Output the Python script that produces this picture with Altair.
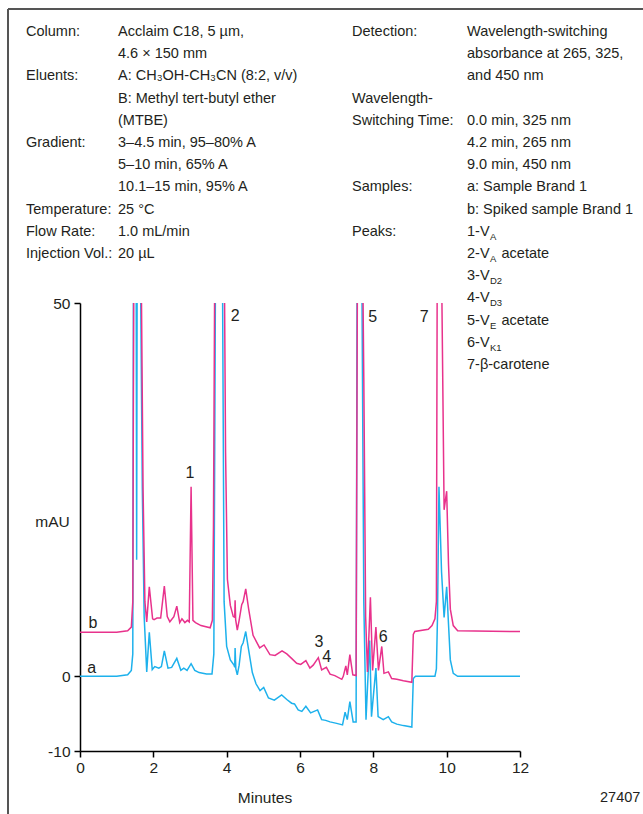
import altair as alt
import pandas as pd

# ---- chromatogram traces: retention time (min) and absorbance (mAU) ----
# a: sample Brand 1
trace_a_min = [0.00, 1.00, 1.30, 1.40, 1.44, 1.46, 1.53, 1.545, 1.56, 1.64, 1.70, 1.75, 1.82,
               1.89, 1.97, 2.04, 2.15, 2.22, 2.30, 2.40, 2.50, 2.64, 2.75, 2.83, 2.92, 3.03,
               3.13, 3.25, 3.45, 3.60, 3.65, 3.70, 3.88, 3.93, 4.00, 4.10, 4.20, 4.22, 4.23,
               4.25, 4.29, 4.34, 4.40, 4.45, 4.52, 4.60, 4.70, 4.80, 4.91, 5.01, 5.14, 5.30,
               5.50, 5.64, 5.77, 5.85, 5.95, 6.05, 6.16, 6.29, 6.48, 6.59, 6.70, 6.82, 7.00,
               7.16, 7.23, 7.29, 7.36, 7.45, 7.53, 7.56, 7.68, 7.74, 7.80, 7.90, 7.95, 8.07,
               8.13, 8.27, 8.41, 8.50, 8.64, 8.82, 9.05, 9.09, 9.15, 9.68, 9.72, 9.75, 9.79,
               9.86, 9.93, 10.00, 10.05, 10.10, 10.18, 10.30, 12.00]
trace_a_mau = [0.0, 0.0, 0.2, 0.8, 3.0, 60, 60, 15.6, 60, 60, 25, 8, 0.6,
               5.9, 0.9, 1.3, 1.1, 1.3, 3.4, 1.1, 1.2, 2.4, 0.8, 1.1, 0.8, 1.7,
               0.8, 0.5, 0.3, 0.3, 3.0, 60, 60, 10, 4.0, 2.2, 1.5, 1.2, 3.8,
               1.0, 0.2, 1.5, 4.0, 4.5, 6.0, 3.5, 0.5, -1.0, -1.9, -1.5, -2.9, -3.2,
               -2.5, -3.1, -3.6, -3.7, -4.5, -4.7, -4.0, -4.9, -4.5, -5.8, -5.9, -6.1, -6.3,
               -6.5, -4.8, -5.8, -3.4, -6.1, -6.1, 60, 60, 10, -5.8, 4.8, -5.4, 1.1,
               -5.4, -5.8, -5.4, -6.1, -6.4, -6.6, -6.8, -0.3, 0.0, 0.0, 1.0, 8, 25.4,
               14, 7.9, 12.0, 7.0, 2.2, 0.4, 0.0, 0.0]

# b: spiked sample Brand 1 (offset trace)
trace_b_min = [0.00, 1.00, 1.30, 1.40, 1.44, 1.47, 1.66, 1.72, 1.77, 1.82, 1.89, 1.98, 2.02,
               2.10, 2.20, 2.30, 2.38, 2.45, 2.56, 2.64, 2.72, 2.78, 2.86, 2.93, 2.98, 3.03,
               3.08, 3.15, 3.30, 3.55, 3.61, 3.64, 3.68, 3.93, 3.97, 4.02, 4.10, 4.18, 4.22,
               4.23, 4.245, 4.29, 4.34, 4.41, 4.45, 4.52, 4.60, 4.72, 4.90, 5.02, 5.18, 5.32,
               5.51, 5.64, 5.77, 5.91, 6.02, 6.16, 6.27, 6.36, 6.50, 6.59, 6.72, 6.82, 6.95,
               7.14, 7.18, 7.25, 7.29, 7.36, 7.44, 7.53, 7.57, 7.70, 7.74, 7.79, 7.84, 7.92,
               7.98, 8.07, 8.14, 8.23, 8.29, 8.41, 8.50, 8.64, 8.82, 9.05, 9.09, 9.13, 9.50,
               9.60, 9.68, 9.72, 9.745, 9.85, 9.93, 10.00, 10.05, 10.10, 10.18, 10.30, 12.00]
trace_b_mau = [5.9, 5.9, 6.1, 6.6, 10, 60, 60, 25, 10, 7.3, 12.0, 7.7, 7.6,
               7.8, 7.8, 12.1, 8.0, 7.3, 8.0, 9.4, 7.2, 7.7, 7.2, 7.5, 7.3, 25.4,
               7.5, 7.2, 6.8, 6.5, 7.5, 20, 60, 60, 30, 13, 9.5, 8.0, 7.9,
               10.2, 7.6, 6.2, 7.5, 9.6, 10.0, 11.7, 9.0, 5.5, 3.8, 4.2, 2.9, 2.8,
               3.4, 3.0, 2.4, 1.75, 1.6, 2.1, 1.1, 1.5, 2.5, 0.85, 1.2, 0.3, 0.1,
               -0.4, 0.0, 1.4, 0.2, 2.9, 0.2, 0.1, 60, 60, 40, 8, 0.6, 10.6,
               0.8, 6.6, 0.8, 4.0, 0.4, 0.6, -0.3, -0.4, -0.6, -0.8, 5.6, 6.0, 6.3,
               6.8, 7.7, 10, 60, 60, 22.3, 24.8, 15, 9.0, 6.8, 6.1, 6.0]

# peak numbers and where they are written
peak_names = ["1", "2", "3", "4", "5", "6", "7"]
peak_label_min = [3.0, 4.23, 6.52, 6.73, 7.98, 8.27, 9.39]
peak_label_mau = [27.2, 48.2, 4.65, 2.64, 48.1, 5.3, 48.1]

trace_names = ["a", "b"]
trace_label_min = [0.32, 0.35]
trace_label_mau = [1.1, 7.1]

x_ticks = [0, 2, 4, 6, 8, 10, 12]
y_ticks = [-10, 0, 50]

# ---- method conditions (one entry per text row) ----
left_labels = ["Column:", "", "Eluents:", "", "", "Gradient:", "", "", "Temperature:",
               "Flow Rate:", "Injection Vol.:"]
left_values = ["Acclaim C18, 5 µm,", "4.6 × 150 mm", "A: CH₃OH-CH₃CN (8:2, v/v)",
               "B: Methyl tert-butyl ether", "(MTBE)", "3–4.5 min, 95–80% A",
               "5–10 min, 65% A", "10.1–15 min, 95% A", "25 °C", "1.0 mL/min", "20 µL"]
right_labels = ["Detection:", "", "", "Wavelength-", "Switching Time:", "", "",
                "Samples:", "", "Peaks:"]
right_values = ["Wavelength-switching", "absorbance at 265, 325,", "and 450 nm", "",
                "0.0 min, 325 nm", "4.2 min, 265 nm", "9.0 min, 450 nm",
                "a: Sample Brand 1", "b: Spiked sample Brand 1"]
peak_prefix = ["1-V", "2-V", "3-V", "4-V", "5-V", "6-V", "7-β-carotene"]
peak_sub = ["A", "A", "D2", "D3", "E", "K1", ""]
peak_suffix = ["", "acetate", "", "", "acetate", "", ""]
figure_code = "27407"

# ---- layout ----
FONT = "Liberation Sans, Arial, sans-serif"
TEXT = "#231f20"
BLUE = "#1db1ec"
PINK = "#e8328c"
W, H = 440, 448
LEFT, TOP = 80, 303
FS = 14.5
ROW0, STEP = 32, 22.2

rows = []


def put(x, row, text, size=FS, dy=0.0):
    if text:
        rows.append({"px": x - LEFT, "py": ROW0 + row * STEP + dy - TOP,
                     "text": text, "fs": size})


for i, t in enumerate(left_labels):
    put(26, i, t)
for i, t in enumerate(left_values):
    put(118, i, t)
for i, t in enumerate(right_labels):
    put(352, i, t)
for i, t in enumerate(right_values):
    put(467, i, t)
for i, (p, s, q) in enumerate(zip(peak_prefix, peak_sub, peak_suffix)):
    put(467, 9 + i, p)
    put(490, 9 + i, s, size=9.5, dy=5)
    put(501.5, 9 + i, q)
rows.append({"px": 600 - LEFT, "py": 798 - TOP, "text": figure_code, "fs": 14.5})
notes = pd.DataFrame(rows)

traces = pd.concat([
    pd.DataFrame({"min": trace_a_min, "mau": trace_a_mau, "trace": "a"}),
    pd.DataFrame({"min": trace_b_min, "mau": trace_b_mau, "trace": "b"}),
])
peaks = pd.DataFrame({"min": peak_label_min, "mau": peak_label_mau, "name": peak_names})
trace_tags = pd.DataFrame({"min": trace_label_min, "mau": trace_label_mau, "name": trace_names})

x_enc = alt.X("min:Q", scale=alt.Scale(domain=[0, 12], nice=False, zero=False),
              axis=alt.Axis(values=x_ticks, title="Minutes", titleX=184.5, titleY=46,
                            titleBaseline="middle", titleAlign="center", labelPadding=3,
                            labelFlush=False))
y_enc = alt.Y("mau:Q", scale=alt.Scale(domain=[-10, 50], nice=False, zero=False),
              axis=alt.Axis(values=y_ticks, title="mAU", titleAngle=0, titleX=-28, titleY=218,
                            titleAlign="center", titleBaseline="middle",
                            labelExpr="datum.value", labelPadding=4, labelFlush=False))

lines = alt.Chart(traces).mark_line(clip=True, strokeWidth=1.5).encode(
    x=x_enc, y=y_enc,
    color=alt.Color("trace:N", scale=alt.Scale(domain=["a", "b"], range=[BLUE, PINK]),
                    legend=None),
)
peak_text = alt.Chart(peaks).mark_text(font=FONT, fontSize=16, color=TEXT,
                                       baseline="middle", align="center").encode(
    x="min:Q", y="mau:Q", text="name:N")
tag_text = alt.Chart(trace_tags).mark_text(font=FONT, fontSize=16, color=TEXT,
                                           baseline="middle", align="center").encode(
    x="min:Q", y="mau:Q", text="name:N")
plot = alt.layer(lines, peak_text, tag_text)

conditions = alt.Chart(notes).mark_text(font=FONT, color=TEXT, align="left",
                                        baseline="middle").encode(
    x=alt.X("px:Q", scale=None, axis=None),
    y=alt.Y("py:Q", scale=None, axis=None),
    text="text:N",
    size=alt.Size("fs:Q", scale=None, legend=None),
)

one = pd.DataFrame({"k": [0]})
frame_top = alt.Chart(one).mark_rule(color="#555555", strokeWidth=2).encode(
    x=alt.value(8 - LEFT), x2=alt.value(643 - LEFT), y=alt.value(9 - TOP))
frame_left = alt.Chart(one).mark_rule(color="#555555", strokeWidth=2).encode(
    x=alt.value(8 - LEFT), y=alt.value(9 - TOP), y2=alt.value(814 - TOP))

chart = alt.layer(plot, conditions, frame_top, frame_left).resolve_scale(
    x="independent", y="independent"
).properties(
    width=W, height=H,
    autosize=alt.AutoSizeParams(type="none"),
    padding={"left": LEFT, "top": TOP, "right": 643 - LEFT - W, "bottom": 814 - TOP - H},
    background="white",
).configure_view(stroke=None).configure_axis(
    grid=False, domainColor="#000000", tickColor="#000000", domainWidth=1.5,
    tickWidth=1.5, tickSize=6, labelFont=FONT, titleFont=FONT, labelFontSize=15.5,
    titleFontSize=15.5, titleFontWeight="normal", labelColor=TEXT, titleColor=TEXT,
)

chart.save("out.html", embed_options={"renderer": "svg", "actions": False})
